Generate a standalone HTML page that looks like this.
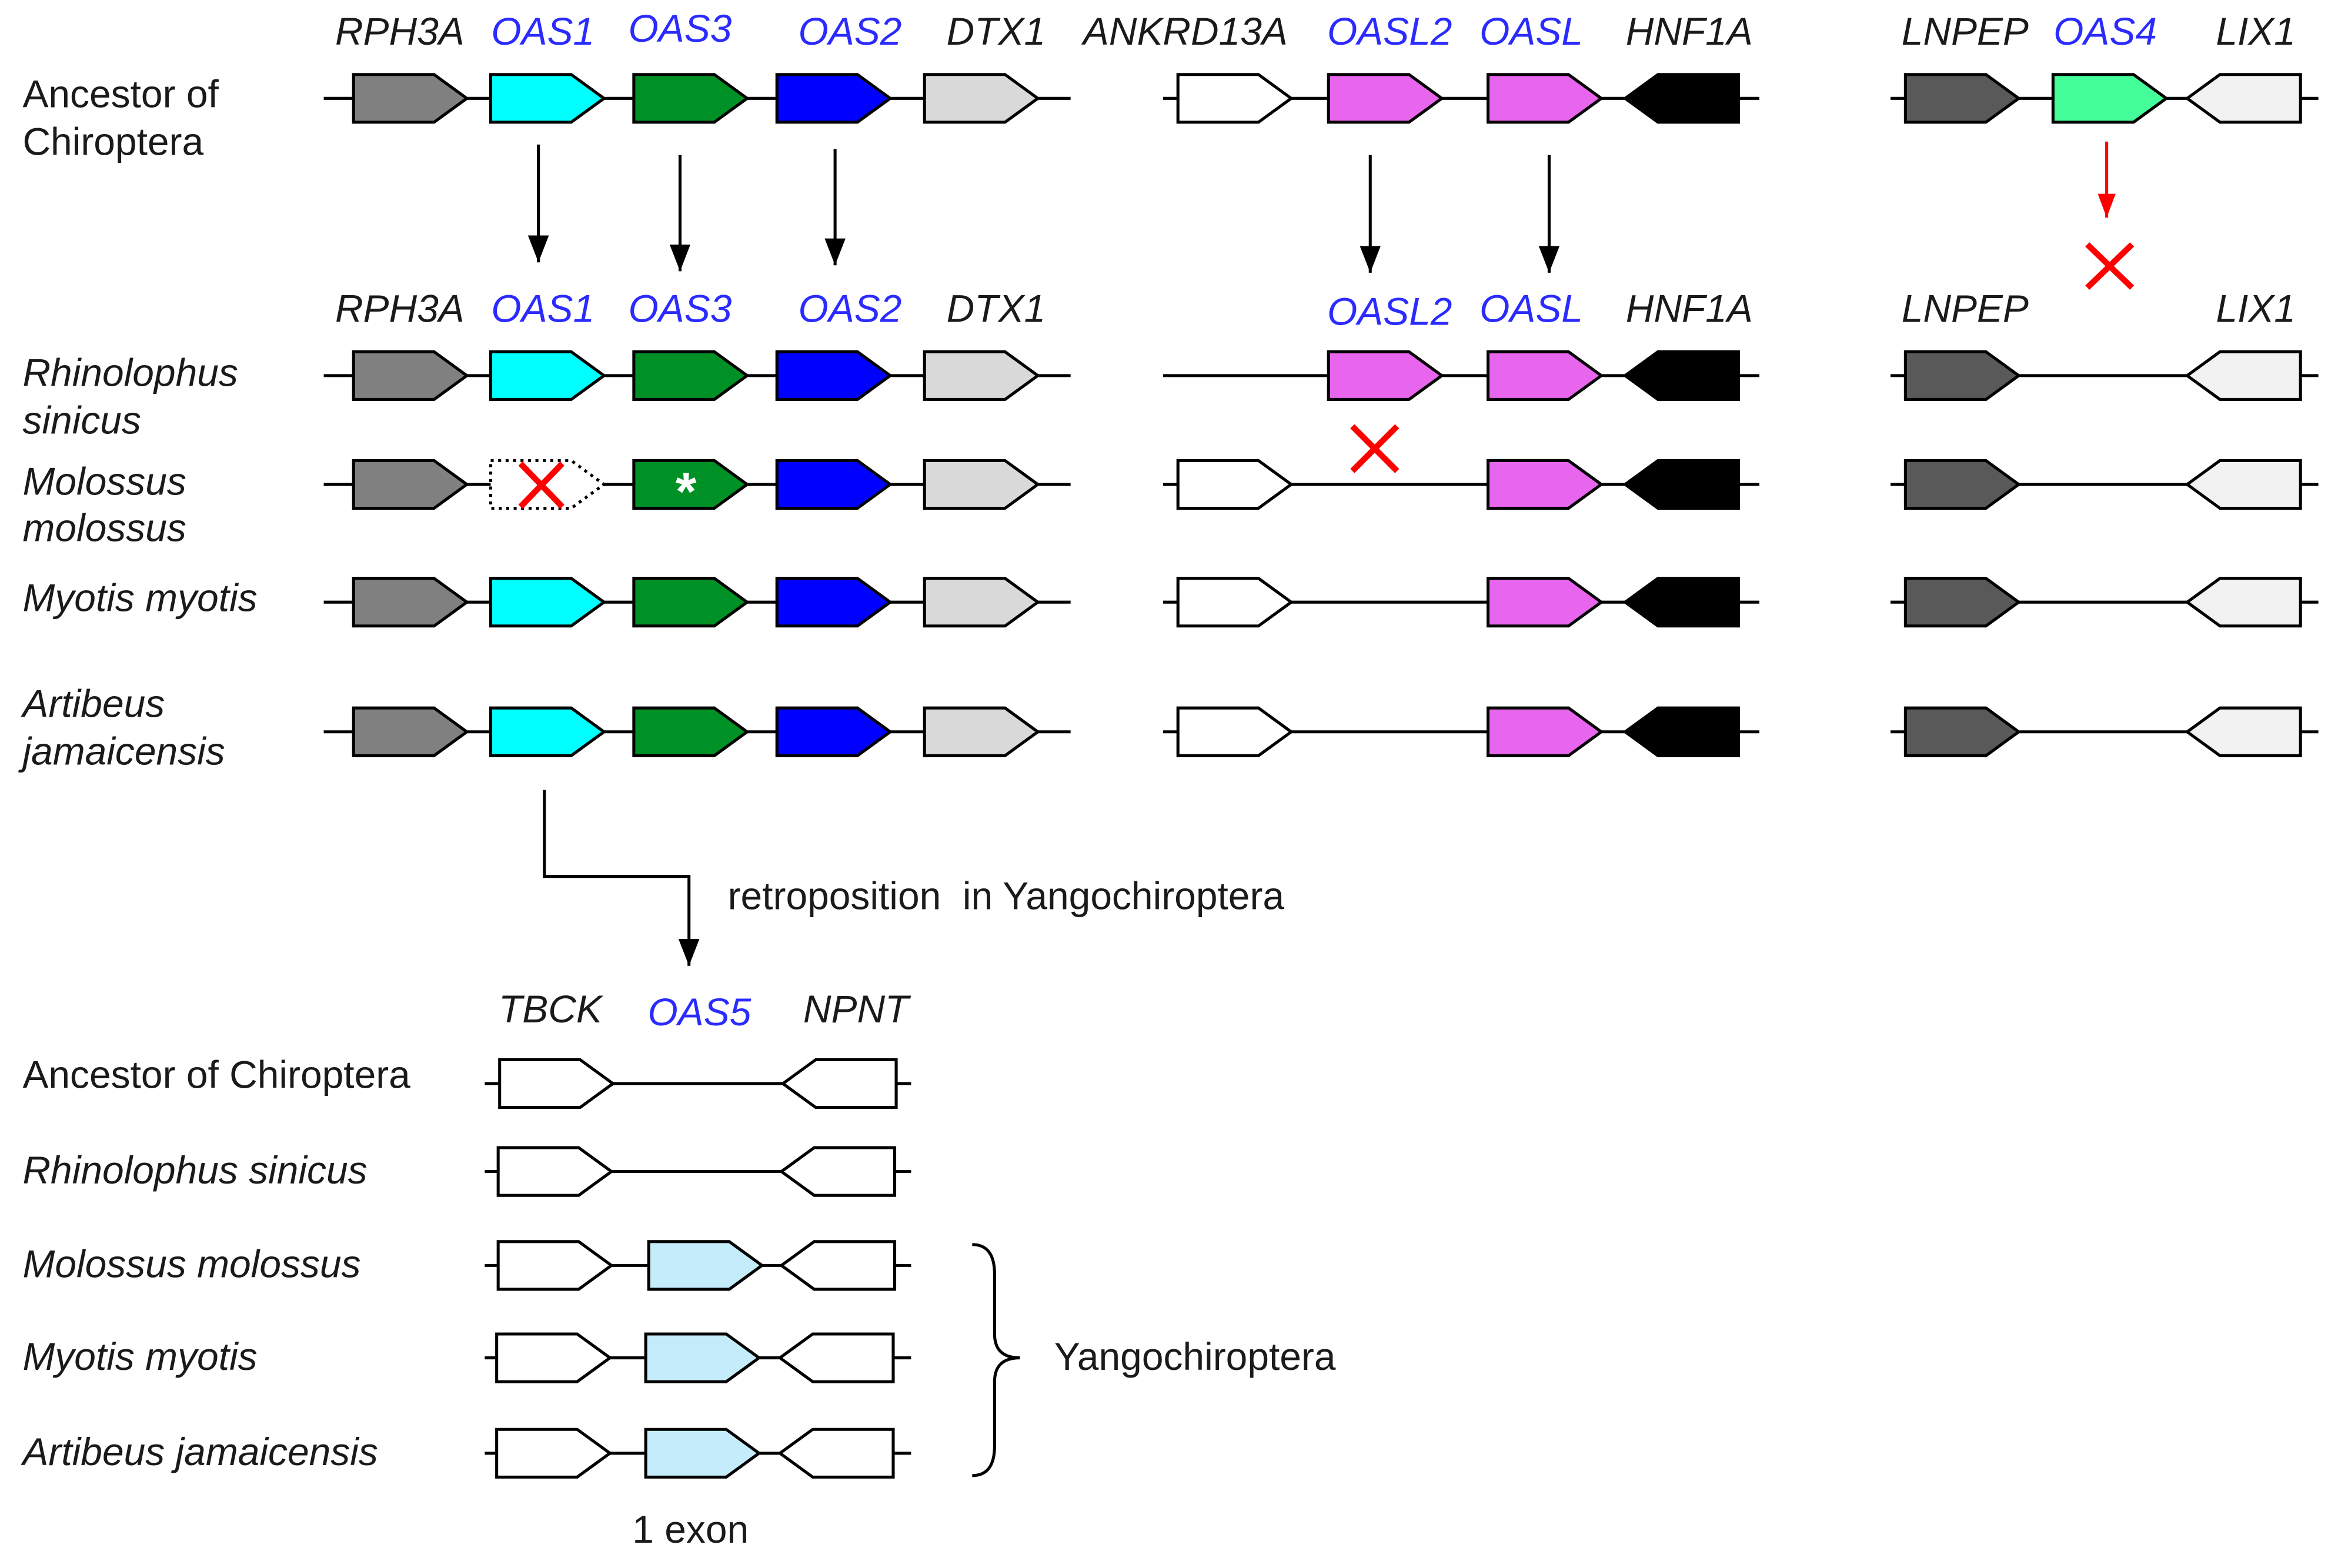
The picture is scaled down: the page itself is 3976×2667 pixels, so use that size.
<!DOCTYPE html>
<html><head><meta charset="utf-8"><style>
html,body{margin:0;padding:0;background:#fff;}
svg{display:block;}
text{font-family:"Liberation Sans",Arial,sans-serif;font-size:26px;fill:#1a1a1a;}
.i{font-style:italic;}
.b{fill:#2b2bff;}
.m{text-anchor:middle;}
</style></head><body>
<svg width="3976" height="2667" viewBox="0 0 1568 1052" xmlns="http://www.w3.org/2000/svg">
<defs>
<marker id="ah" markerWidth="18" markerHeight="14" refX="18" refY="7" orient="auto" markerUnits="userSpaceOnUse"><path d="M0,0 L18,7 L0,14 z" fill="#000"/></marker>
<marker id="ahr" markerWidth="16" markerHeight="12" refX="16" refY="6" orient="auto" markerUnits="userSpaceOnUse"><path d="M0,0 L16,6 L0,12 z" fill="#f00"/></marker>
<marker id="ahd" markerWidth="18" markerHeight="14" refX="18" refY="7" orient="auto" markerUnits="userSpaceOnUse"><path d="M0,0 L18,7 L0,14 z" fill="#000"/></marker>
</defs>
<g stroke="#000" stroke-width="2">
<line x1="217" y1="66" x2="718" y2="66"/><line x1="780" y1="66" x2="1180" y2="66"/><line x1="1268" y1="66" x2="1555" y2="66"/>
<line x1="217" y1="252" x2="718" y2="252"/><line x1="780" y1="252" x2="1180" y2="252"/><line x1="1268" y1="252" x2="1555" y2="252"/>
<line x1="217" y1="325" x2="718" y2="325"/><line x1="780" y1="325" x2="1180" y2="325"/><line x1="1268" y1="325" x2="1555" y2="325"/>
<line x1="217" y1="404" x2="718" y2="404"/><line x1="780" y1="404" x2="1180" y2="404"/><line x1="1268" y1="404" x2="1555" y2="404"/>
<line x1="217" y1="491" x2="718" y2="491"/><line x1="780" y1="491" x2="1180" y2="491"/><line x1="1268" y1="491" x2="1555" y2="491"/>
</g>
<g stroke="#000" stroke-width="2">
<path d="M237 50h54l22 16l-22 16h-54z" fill="#808080"/>
<path d="M329 50h54l22 16l-22 16h-54z" fill="#00ffff"/>
<path d="M425 50h54l22 16l-22 16h-54z" fill="#009126"/>
<path d="M521 50h54l22 16l-22 16h-54z" fill="#0000ff"/>
<path d="M620 50h54l22 16l-22 16h-54z" fill="#d9d9d9"/>
<path d="M790 50h54l22 16l-22 16h-54z" fill="#fff"/>
<path d="M891 50h54l22 16l-22 16h-54z" fill="#e866ee"/>
<path d="M998 50h54l22 16l-22 16h-54z" fill="#e866ee"/>
<path d="M1112 50h54v32h-54l-22-16z" fill="#000"/>
<path d="M1278 50h54l22 16l-22 16h-54z" fill="#595959"/>
<path d="M1377 50h54l22 16l-22 16h-54z" fill="#44ff99"/>
<path d="M1489 50h54v32h-54l-22-16z" fill="#f2f2f2"/>
<path d="M237 236h54l22 16l-22 16h-54z" fill="#808080"/>
<path d="M329 236h54l22 16l-22 16h-54z" fill="#00ffff"/>
<path d="M425 236h54l22 16l-22 16h-54z" fill="#009126"/>
<path d="M521 236h54l22 16l-22 16h-54z" fill="#0000ff"/>
<path d="M620 236h54l22 16l-22 16h-54z" fill="#d9d9d9"/>
<path d="M891 236h54l22 16l-22 16h-54z" fill="#e866ee"/>
<path d="M998 236h54l22 16l-22 16h-54z" fill="#e866ee"/>
<path d="M1112 236h54v32h-54l-22-16z" fill="#000"/>
<path d="M1278 236h54l22 16l-22 16h-54z" fill="#595959"/>
<path d="M1489 236h54v32h-54l-22-16z" fill="#f2f2f2"/>
<path d="M237 309h54l22 16l-22 16h-54z" fill="#808080"/>
<path d="M329 309h54l22 16l-22 16h-54z" fill="#fff" stroke-dasharray="2,3"/>
<path d="M425 309h54l22 16l-22 16h-54z" fill="#009126"/>
<path d="M521 309h54l22 16l-22 16h-54z" fill="#0000ff"/>
<path d="M620 309h54l22 16l-22 16h-54z" fill="#d9d9d9"/>
<path d="M790 309h54l22 16l-22 16h-54z" fill="#fff"/>
<path d="M998 309h54l22 16l-22 16h-54z" fill="#e866ee"/>
<path d="M1112 309h54v32h-54l-22-16z" fill="#000"/>
<path d="M1278 309h54l22 16l-22 16h-54z" fill="#595959"/>
<path d="M1489 309h54v32h-54l-22-16z" fill="#f2f2f2"/>
<path d="M237 388h54l22 16l-22 16h-54z" fill="#808080"/>
<path d="M329 388h54l22 16l-22 16h-54z" fill="#00ffff"/>
<path d="M425 388h54l22 16l-22 16h-54z" fill="#009126"/>
<path d="M521 388h54l22 16l-22 16h-54z" fill="#0000ff"/>
<path d="M620 388h54l22 16l-22 16h-54z" fill="#d9d9d9"/>
<path d="M790 388h54l22 16l-22 16h-54z" fill="#fff"/>
<path d="M998 388h54l22 16l-22 16h-54z" fill="#e866ee"/>
<path d="M1112 388h54v32h-54l-22-16z" fill="#000"/>
<path d="M1278 388h54l22 16l-22 16h-54z" fill="#595959"/>
<path d="M1489 388h54v32h-54l-22-16z" fill="#f2f2f2"/>
<path d="M237 475h54l22 16l-22 16h-54z" fill="#808080"/>
<path d="M329 475h54l22 16l-22 16h-54z" fill="#00ffff"/>
<path d="M425 475h54l22 16l-22 16h-54z" fill="#009126"/>
<path d="M521 475h54l22 16l-22 16h-54z" fill="#0000ff"/>
<path d="M620 475h54l22 16l-22 16h-54z" fill="#d9d9d9"/>
<path d="M790 475h54l22 16l-22 16h-54z" fill="#fff"/>
<path d="M998 475h54l22 16l-22 16h-54z" fill="#e866ee"/>
<path d="M1112 475h54v32h-54l-22-16z" fill="#000"/>
<path d="M1278 475h54l22 16l-22 16h-54z" fill="#595959"/>
<path d="M1489 475h54v32h-54l-22-16z" fill="#f2f2f2"/>
<line x1="325" y1="727" x2="611" y2="727"/><line x1="325" y1="786" x2="611" y2="786"/><line x1="325" y1="849" x2="611" y2="849"/><line x1="325" y1="911" x2="611" y2="911"/><line x1="325" y1="975" x2="611" y2="975"/>
<path d="M335 711h54l22 16l-22 16h-54z" fill="#fff"/><path d="M547 711h54v32h-54l-22-16z" fill="#fff"/>
<path d="M334 770h54l22 16l-22 16h-54z" fill="#fff"/><path d="M546 770h54v32h-54l-22-16z" fill="#fff"/>
<path d="M334 833h54l22 16l-22 16h-54z" fill="#fff"/><path d="M435 833h54l22 16l-22 16h-54z" fill="#c5ecfb"/><path d="M546 833h54v32h-54l-22-16z" fill="#fff"/>
<path d="M333 895h54l22 16l-22 16h-54z" fill="#fff"/><path d="M433 895h54l22 16l-22 16h-54z" fill="#c5ecfb"/><path d="M545 895h54v32h-54l-22-16z" fill="#fff"/>
<path d="M333 959h54l22 16l-22 16h-54z" fill="#fff"/><path d="M433 959h54l22 16l-22 16h-54z" fill="#c5ecfb"/><path d="M545 959h54v32h-54l-22-16z" fill="#fff"/>
<line x1="361" y1="97" x2="361" y2="176" marker-end="url(#ah)"/>
<line x1="456" y1="104" x2="456" y2="182" marker-end="url(#ah)"/>
<line x1="560" y1="100" x2="560" y2="178" marker-end="url(#ah)"/>
<line x1="919" y1="104" x2="919" y2="183" marker-end="url(#ah)"/>
<line x1="1039" y1="104" x2="1039" y2="183" marker-end="url(#ah)"/>
<line x1="1413" y1="95" x2="1413" y2="146" stroke="#f00" marker-end="url(#ahr)"/>
<polyline points="365,530 365,588 462,588 462,648" fill="none" marker-end="url(#ahd)"/>
<path d="M652 835 Q667 835 667 855 V895 Q667 911 684 911 Q667 911 667 927 V970 Q667 990 652 990" fill="none"/>
</g>
<g stroke="#f00" stroke-width="4">
<path d="M1400 164L1430 193M1430 164L1400 193"/>
<path d="M349 311L377 340M377 311L349 340"/>
<path d="M907 286L937 316M937 286L907 316"/>
</g>
<text x="460" y="342" class="m" style="fill:#fff;font-weight:bold;font-size:36px">*</text>
<g class="i">
<text x="268" y="30" class="m">RPH3A</text><text x="364" y="30" class="m b">OAS1</text><text x="456" y="28" class="m b">OAS3</text><text x="570" y="30" class="m b">OAS2</text><text x="668" y="30" class="m">DTX1</text>
<text x="795" y="30" class="m">ANKRD13A</text><text x="932" y="30" class="m b">OASL2</text><text x="1027" y="30" class="m b">OASL</text><text x="1133" y="30" class="m">HNF1A</text>
<text x="1318" y="30" class="m">LNPEP</text><text x="1412" y="30" class="m b">OAS4</text><text x="1513" y="30" class="m">LIX1</text>
<text x="268" y="216" class="m">RPH3A</text><text x="364" y="216" class="m b">OAS1</text><text x="456" y="216" class="m b">OAS3</text><text x="570" y="216" class="m b">OAS2</text><text x="668" y="216" class="m">DTX1</text>
<text x="932" y="218" class="m b">OASL2</text><text x="1027" y="216" class="m b">OASL</text><text x="1133" y="216" class="m">HNF1A</text>
<text x="1318" y="216" class="m">LNPEP</text><text x="1513" y="216" class="m">LIX1</text>
<text x="15" y="259">Rhinolophus</text><text x="15" y="291">sinicus</text>
<text x="15" y="332">Molossus</text><text x="15" y="363">molossus</text>
<text x="15" y="410">Myotis myotis</text>
<text x="15" y="481">Artibeus</text><text x="15" y="513">jamaicensis</text>
<text x="369" y="686" class="m">TBCK</text><text x="469" y="688" class="m b">OAS5</text><text x="574" y="686" class="m">NPNT</text>
<text x="15" y="794">Rhinolophus sinicus</text>
<text x="15" y="857">Molossus molossus</text>
<text x="15" y="919">Myotis myotis</text>
<text x="15" y="983">Artibeus jamaicensis</text>
</g>
<text x="15" y="72">Ancestor of</text><text x="15" y="104">Chiroptera</text>
<text x="15" y="730">Ancestor of Chiroptera</text>
<text x="488" y="610" xml:space="preserve">retroposition  in Yangochiroptera</text>
<text x="707" y="919">Yangochiroptera</text>
<text x="463" y="1035" class="m">1 exon</text>
</svg>
</body></html>
